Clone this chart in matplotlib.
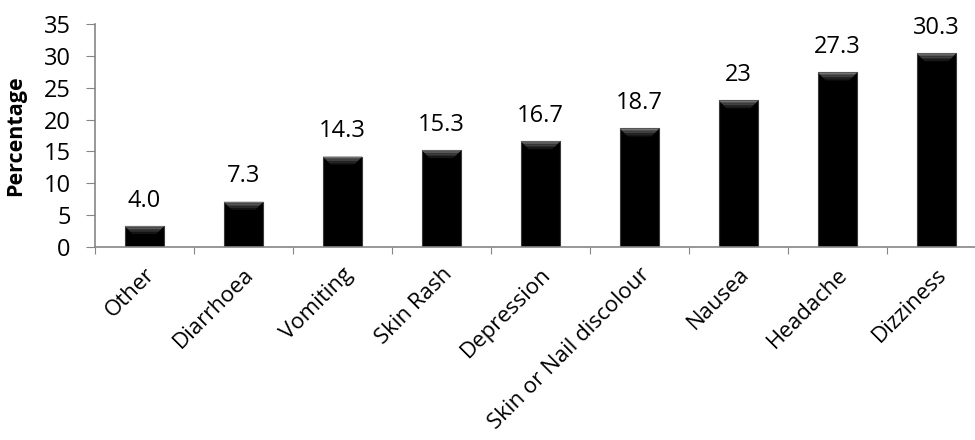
import numpy as np
import matplotlib
matplotlib.use('Agg')
import matplotlib.pyplot as plt
import matplotlib.transforms as mtransforms
from matplotlib.patches import Polygon

# ---- data ----
categories = ['Other', 'Diarrhoea', 'Vomiting', 'Skin Rash', 'Depression',
              'Skin or Nail discolour', 'Nausea', 'Headache', 'Dizziness']
heights = [3.3, 7.1, 14.2, 15.2, 16.6, 18.6, 23.0, 27.4, 30.4]
bar_labels = ['4.0', '7.3', '14.3', '15.3', '16.7', '18.7', '23', '27.3', '30.3']
yticks = [0, 5, 10, 15, 20, 25, 30, 35]

plt.rcParams['font.family'] = ['Open Sans', 'DejaVu Sans']
axis_col = '#868686'

fig = plt.figure(figsize=(9.75, 4.4), dpi=100)
ax = fig.add_axes([95/975, 193/440, 891/975, 223/440])

x = np.arange(len(categories))
w = 0.40
ax.bar(x, heights, width=w, color='black', edgecolor='#3a3a3a',
       linewidth=0.8, zorder=2)

# bevel highlight at the top of each bar (Excel style)
ax.set_xlim(-0.5, len(categories) - 0.5)
ax.set_ylim(0, 35)
dy = 35 * 8 / 223          # ~8 px deep
dx = len(categories) * 8 / 891
shades = ['#707070', '#585858', '#404040', '#2a2a2a', '#161616']
for xi, h in zip(x, heights):
    l, r = xi - w/2, xi + w/2
    n = len(shades)
    for k, c in enumerate(shades):
        f0, f1 = k / n, (k + 1) / n
        poly = Polygon([(l + dx*f0, h - dy*f0), (r - dx*f0, h - dy*f0),
                        (r - dx*f1, h - dy*f1), (l + dx*f1, h - dy*f1)],
                       closed=True, facecolor=c, edgecolor='none', zorder=3)
        ax.add_patch(poly)

for xi, h, lab in zip(x, heights, bar_labels):
    ax.annotate(lab, (xi, h), xytext=(0, 14), textcoords='offset points',
                ha='center', va='baseline', fontsize=17)

ax.set_yticks(yticks)
ax.set_xticks(np.arange(len(categories) + 1) - 0.5, minor=False)
ax.set_xticklabels([])
ax.set_xticks(x, minor=True)
ax.set_xticklabels(categories, minor=True, rotation=45, ha='right',
                   rotation_mode='anchor', fontsize=16)
shift = mtransforms.ScaledTranslation(-8/100, 0, fig.dpi_scale_trans)
for t in ax.get_xticklabels(minor=True):
    t.set_transform(t.get_transform() + shift)
ax.tick_params(axis='x', which='minor', length=0, pad=12)
ax.tick_params(axis='x', which='major', length=5, color=axis_col, direction='out')
ax.tick_params(axis='y', length=6.5, color=axis_col, labelsize=17, pad=11)

for s in ['top', 'right']:
    ax.spines[s].set_visible(False)
for s in ['left', 'bottom']:
    ax.spines[s].set_color(axis_col)
    ax.spines[s].set_linewidth(1.2)

ax.set_ylabel('Percentage', fontsize=15.5, fontweight='bold')
ax.yaxis.set_label_coords(-0.077, 0.5)

fig.savefig('out.png', dpi=100)
